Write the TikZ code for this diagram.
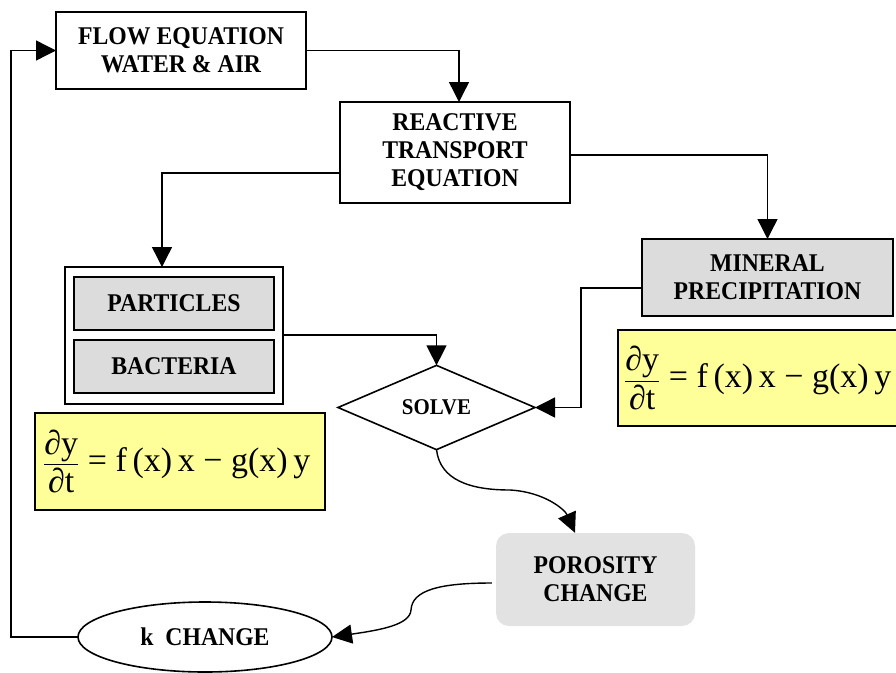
\documentclass[tikz,border=0pt]{standalone}
\usepackage{fontspec}
\setmainfont{Liberation Serif}
\newfontfamily\lblfont{Liberation Serif}[FakeStretch=0.93]
\usepackage{amsmath}
\usetikzlibrary{arrows.meta,shapes.geometric}
\definecolor{boxgray}{HTML}{DCDCDC}
\definecolor{porogray}{HTML}{E2E2E2}
\definecolor{eqyellow}{HTML}{FFFF99}
\newcommand{\dyeq}{$\dfrac{\text{∂y}}{\text{∂t}}$ = f\,(x)\,x − g(x)\,y}
\begin{document}
\begin{tikzpicture}[x=1pt,y=-1pt,
  lbl/.style={font=\lblfont\bfseries\fontsize{25.5}{28}\selectfont, align=center},
  plainbox/.style={lbl, draw, line width=1.6pt, fill=white, inner sep=0pt, outer sep=0pt},
  graybox/.style={plainbox, fill=boxgray},
  conn/.style={line width=1.4pt, -{Triangle[length=20pt,width=20pt]}},
  curvconn/.style={line width=1.4pt, -{Triangle[length=20pt,width=19pt]}},
  eqbox/.style={draw, line width=1.6pt, fill=eqyellow, inner sep=0pt, outer sep=0pt},
  eqtext/.style={inner sep=0pt, font=\normalfont\fontsize{34}{38}\selectfont}
]
\useasboundingbox (0,0) rectangle (896,672);

\node[plainbox, minimum width=250pt, minimum height=77pt] (flow) at (181,50.5) {FLOW EQUATION\\WATER \& AIR};
\node[plainbox, minimum width=230pt, minimum height=101pt] (react) at (455,152.5) {REACTIVE\\TRANSPORT\\EQUATION};
\node[plainbox, minimum width=218pt, minimum height=137pt] (group) at (174,335.5) {};
\node[graybox, minimum width=200pt, minimum height=53pt] (part) at (174,303.5) {PARTICLES};
\node[graybox, minimum width=200pt, minimum height=53pt] (bact) at (174,366.5) {BACTERIA};
\node[graybox, minimum width=251pt, minimum height=77pt] (mineral) at (767.5,277.5) {MINERAL\\PRECIPITATION};
\node[diamond, draw, line width=1.6pt, lbl, font=\lblfont\bfseries\fontsize{22.5}{25}\selectfont, minimum width=197pt, minimum height=71pt, inner sep=0pt, outer sep=0pt] (solve) at (436.5,407.5) {SOLVE};
\node[rounded corners=13pt, fill=porogray, lbl, minimum width=199pt, minimum height=93pt, inner sep=0pt] (poro) at (595.5,579.5) {POROSITY\\CHANGE};
\node[ellipse, draw, line width=1.6pt, lbl, fill=white, minimum width=254pt, minimum height=70pt, inner sep=0pt, outer sep=0pt] (kchg) at (205,637) {k~~CHANGE};

\node[eqbox, minimum width=290pt, minimum height=97pt] (eqL) at (180,461.5) {};
\node[eqtext, anchor=west] (eqLt) at ([xshift=8pt]eqL.west) {\dyeq};
\node[eqbox, minimum width=289pt, minimum height=96pt] (eqR) at (762.5,378) {};
\node[eqtext, anchor=west] (eqRt) at ([xshift=6pt]eqR.west) {\dyeq};

\draw[conn] (kchg.west) -- ++(-67,0) |- (flow.west);
\draw[conn] (flow.east) -| ([xshift=4pt]react.north);
\draw[conn] ([yshift=-20.5pt]react.west) -| ([xshift=-12pt]group.north);
\draw[conn] ([yshift=-2.5pt]react.east) -| (mineral.north);
\draw[conn] ([yshift=0.5pt]group.east) -| (solve.north);
\draw[conn] ([yshift=-10.5pt]mineral.west) -- ++(-61,0) |- (solve.east);
\draw[curvconn] (solve.south) .. controls (440,480) and (470,490) .. (510,490) .. controls (545,492) and (565,510) .. ([xshift=-20.5pt]poro.north);
\draw[curvconn] ([yshift=-3.5pt,xshift=-4pt]poro.west) .. controls (440,583) and (412,590) .. (411,610) .. controls (410,625) and (380,630) .. (kchg.east);
\end{tikzpicture}
\end{document}
